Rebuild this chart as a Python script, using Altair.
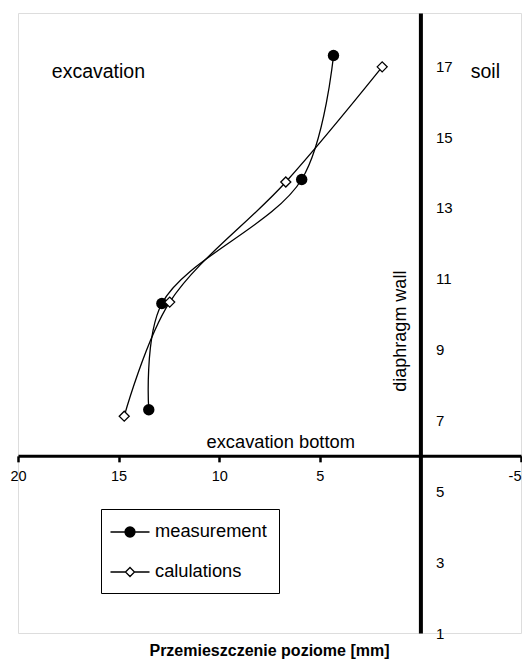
import altair as alt
import pandas as pd

FONT = "Liberation Sans"

series_names = ["measurement", "calulations"]
meas_x = [13.5, 12.85, 5.9, 4.32]
meas_y = [7.3, 10.3, 13.8, 17.3]
calc_x = [14.72, 12.46, 6.69, 1.9]
calc_y = [7.12, 10.34, 13.73, 16.98]

x_ticks = [20, 15, 10, 5, 0, -5]
y_ticks = [1, 3, 5, 7, 9, 11, 13, 15, 17]

annot_text = ["excavation", "soil"]
annot_x = [18.32, -2.5]
annot_y = [16.83, 16.83]

bottom_text = ["excavation bottom"]
bottom_x = [10.63]
bottom_y = [6.22]

wall_text = ["diaphragm wall"]
wall_x = [0.72]
wall_y = [9.52]

df = pd.DataFrame({
    "series": [series_names[0]] * len(meas_x) + [series_names[1]] * len(calc_x),
    "x": meas_x + calc_x,
    "y": meas_y + calc_y,
})
ann_df = pd.DataFrame({"t": annot_text, "x": annot_x, "y": annot_y})
bot_df = pd.DataFrame({"t": bottom_text, "x": bottom_x, "y": bottom_y})
wall_df = pd.DataFrame({"t": wall_text, "x": wall_x, "y": wall_y})

W, H = 503, 620

xs = alt.Scale(domain=[-5, 20], reverse=True, nice=False, zero=False)
ys = alt.Scale(domain=[1, 18.5], nice=False, zero=False)

xaxis = alt.Axis(values=x_ticks, orient="bottom", offset=-H * 5 / 17.5, title=None, grid=False,
                 domainColor="black", domainWidth=3, tickColor="black", tickWidth=2.5, tickSize=6,
                 labelFont=FONT, labelFontSize=14.5, labelColor="black", labelPadding=8,
                 labelFlush=False, labelOverlap=False,
                 labelAlign=alt.ConditionalAxisLabelAlign(
                     condition={"test": "datum.value == -5", "value": "right"}, value="center"),
                 labelExpr="datum.value == 0 ? '' : '' + datum.value", zindex=1)
yaxis = alt.Axis(values=y_ticks, orient="right", offset=-W * 5 / 25, title=None, grid=False,
                 domainColor="black", domainWidth=4, ticks=False,
                 labelFont=FONT, labelFontSize=15, labelColor="black", labelPadding=15,
                 labelAlign="left", labelOverlap=False, zindex=1)

X = alt.X("x:Q", scale=xs, axis=xaxis)
Y = alt.Y("y:Q", scale=ys, axis=yaxis)

lines = alt.Chart(df).mark_line(interpolate="catmull-rom", color="black", strokeWidth=1.3).encode(
    x=X, y=Y, detail="series:N", order="y:Q")

meas_pts = alt.Chart(df).transform_filter(alt.datum.series == series_names[0]).mark_point(
    shape="circle", filled=True, color="black", size=130, opacity=1).encode(x=X, y=Y)

calc_pts = alt.Chart(df).transform_filter(alt.datum.series == series_names[1]).mark_point(
    shape="diamond", filled=True, fill="white", stroke="black", strokeWidth=1.3, size=100,
    opacity=1).encode(x=X, y=Y)

path_m = "M-1.95,0L1.95,0M-0.5,0A0.5,0.5,0,1,1,0.5,0A0.5,0.5,0,1,1,-0.5,0Z"
path_c = "M-1.95,0L-0.45,0M0.45,0L1.95,0M-0.45,0L0,-0.45L0.45,0L0,0.45Z"

leg = alt.Legend(orient="none", legendX=83, legendY=496, title=None,
                 labelFont=FONT, labelFontSize=18.3, labelColor="black",
                 symbolSize=400, symbolStrokeWidth=1.3, symbolStrokeColor="black",
                 strokeColor="black", fillColor="white", padding=12, rowPadding=20,
                 labelOffset=14, symbolOffset=6)

legend_layer = alt.Chart(df).transform_filter("false").mark_point(
    strokeWidth=1.3, opacity=1).encode(
    x=X, y=Y,
    shape=alt.Shape("series:N", scale=alt.Scale(domain=series_names, range=[path_m, path_c]), legend=leg),
    fill=alt.Fill("series:N", scale=alt.Scale(domain=series_names, range=["black", "white"]), legend=leg),
    stroke=alt.Stroke("series:N", scale=alt.Scale(domain=series_names, range=["black", "black"]), legend=leg),
)

ann = alt.Chart(ann_df).mark_text(align="left", baseline="middle", font=FONT, fontSize=19.5,
                                  color="black").encode(x=X, y=Y, text="t:N")
bot = alt.Chart(bot_df).mark_text(align="left", baseline="alphabetic", font=FONT, fontSize=18.3,
                                  color="black").encode(x=X, y=Y, text="t:N")
wall = alt.Chart(wall_df).mark_text(align="center", baseline="alphabetic", angle=270, font=FONT,
                                    fontSize=18, color="black").encode(x=X, y=Y, text="t:N")

chart = alt.layer(lines, meas_pts, calc_pts, legend_layer, ann, bot, wall).properties(
    width=W, height=H,
    autosize=alt.AutoSizeParams(type="none"),
    padding={"left": 10, "top": 5, "right": 1, "bottom": 26},
    title=alt.TitleParams(text="Przemieszczenie poziome [mm]", orient="bottom", anchor="middle",
                          font=FONT, fontSize=16, fontWeight="bold", color="black", offset=2),
).configure_view(stroke="#333", strokeWidth=1).configure(font=FONT)

chart.save("out.html", embed_options={"renderer": "svg", "actions": False})
